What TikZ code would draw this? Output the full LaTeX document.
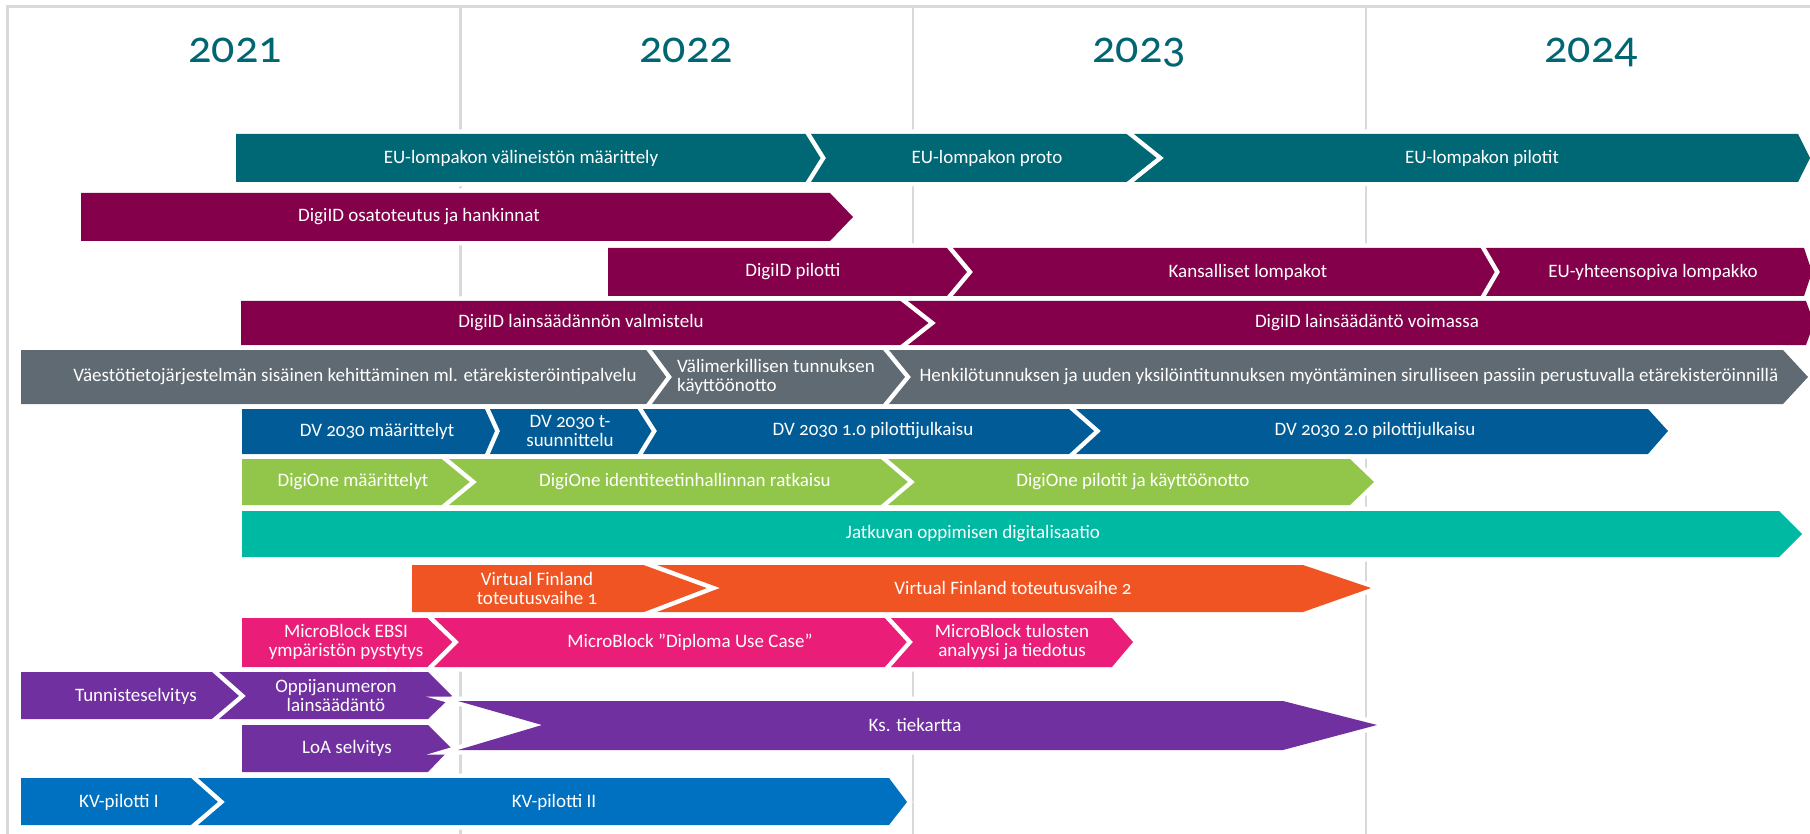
\documentclass[tikz,border=0pt]{standalone}
\usepackage{fontspec}
\setmainfont{Carlito}[Numbers=OldStyle]
\definecolor{gridgray}{RGB}{217,217,217}
\definecolor{yeartxt}{RGB}{0,102,114}
\definecolor{eu}{RGB}{0,103,116}
\definecolor{digiid}{RGB}{133,0,75}
\definecolor{vtj}{RGB}{95,106,114}
\definecolor{dv}{RGB}{0,91,150}
\definecolor{digione}{RGB}{146,198,74}
\definecolor{jatkuva}{RGB}{0,185,163}
\definecolor{vf}{RGB}{240,84,35}
\definecolor{mb}{RGB}{234,30,120}
\definecolor{oph}{RGB}{112,48,160}
\definecolor{kv}{RGB}{0,112,192}

\begin{document}
\begin{tikzpicture}[x=1pt,y=-1pt,
    seg/.style={preaction={draw=white,line width=9pt}},
    lbl/.style={text=white,font=\fontsize{19}{19}\selectfont,align=center,inner sep=0pt},
    yr/.style={text=yeartxt,font=\fontsize{46}{46}\selectfont,anchor=base,inner sep=0pt}]
				\useasboundingbox (0,0) rectangle (1810,834);
				\fill[white] (0,0) rectangle (1810,834);

				% grid
				\draw[gridgray,line width=3pt] (7,834) -- (7,7) -- (1810,7);
				\draw[gridgray,line width=2.5pt] (460.5,7) -- (460.5,834);
				\draw[gridgray,line width=2.5pt] (913,7) -- (913,834);
				\draw[gridgray,line width=2.5pt] (1366,7) -- (1366,834);

				\node[yr] (y21) at (235,63) {2021};
				\node[yr] (y22) at (686,63) {2022};
				\node[yr] (y23) at (1139,63) {2023};
				\node[yr] (y24) at (1591,63) {2024};

				% EU-lompakko
				\fill[eu,seg] (236,134) -- (811,134) -- (826,158) -- (811,182) -- (236,182) -- cycle;
				\fill[eu,seg] (811,134) -- (1134,134) -- (1164,158) -- (1134,182) -- (811,182) -- (826,158) -- cycle;
				\fill[eu,seg] (1134,134) -- (1798,134) -- (1810,158) -- (1798,182) -- (1134,182) -- (1164,158) -- cycle;
				\node[lbl] (eu1) at (521,158) {EU-lompakon välineistön määrittely};
				\node[lbl] (eu2) at (987,158) {EU-lompakon proto};
				\node[lbl] (eu3) at (1482,158) {EU-lompakon pilotit};

				% DigiID
				\fill[digiid,seg] (81,193) -- (830,193) -- (853,217) -- (830,241) -- (81,241) -- cycle;
				\node[lbl] (did1) at (419,217) {DigiID osatoteutus ja hankinnat};

				\fill[digiid,seg] (608,248) -- (953,248) -- (973,272) -- (953,296) -- (608,296) -- cycle;
				\fill[digiid,seg] (953,248) -- (1486,248) -- (1500,272) -- (1486,296) -- (953,296) -- (973,272) -- cycle;
				\fill[digiid,seg] (1486,248) -- (1804,248) -- (1812,272) -- (1804,296) -- (1486,296) -- (1500,272) -- cycle;
				\node[lbl] (did2) at (793,272) {DigiID pilotti};
				\node[lbl] (did3) at (1248,272) {Kansalliset lompakot};
				\node[lbl] (did4) at (1653,272) {EU-yhteensopiva lompakko};

				\fill[digiid,seg] (241,301) -- (908,301) -- (936,323) -- (908,345) -- (241,345) -- cycle;
				\fill[digiid,seg] (908,301) -- (1806,301) -- (1814,323) -- (1806,345) -- (908,345) -- (936,323) -- cycle;
				\node[lbl] (did5) at (581,323) {DigiID lainsäädännön valmistelu};
				\node[lbl] (did6) at (1367,323) {DigiID lainsäädäntö voimassa};

				% VTJ
				\fill[vtj,seg] (21,350) -- (652,350) -- (672,377) -- (652,404) -- (21,404) -- cycle;
				\fill[vtj,seg] (652,350) -- (889,350) -- (911,377) -- (889,404) -- (652,404) -- (672,377) -- cycle;
				\fill[vtj,seg] (889,350) -- (1783,350) -- (1808,377) -- (1783,404) -- (889,404) -- (911,377) -- cycle;
				\node[lbl] (vtj1) at (355,377) {Väestötietojärjestelmän sisäinen kehittäminen ml. etärekisteröintipalvelu};
				\node[lbl,align=left,anchor=west] (vtj2) at (677,377) {Välimerkillisen tunnuksen\\käyttöönotto};
				\node[lbl] (vtj3) at (1349,377) {Henkilötunnuksen ja uuden yksilöintitunnuksen myöntäminen sirulliseen passiin perustuvalla etärekisteröinnillä};

				% DV 2030
				\fill[dv,seg] (242,409) -- (490,409) -- (500,431) -- (490,454) -- (242,454) -- cycle;
				\fill[dv,seg] (490,409) -- (643,409) -- (657,431) -- (643,454) -- (490,454) -- (500,431) -- cycle;
				\fill[dv,seg] (643,409) -- (1076,409) -- (1101,431) -- (1076,454) -- (643,454) -- (657,431) -- cycle;
				\fill[dv,seg] (1076,409) -- (1648,409) -- (1668,431) -- (1648,454) -- (1076,454) -- (1101,431) -- cycle;
				\node[lbl] (dv1) at (377,431) {DV 2030 määrittelyt};
				\node[lbl] (dv2) at (570,431) {DV 2030 t-\\suunnittelu};
				\node[lbl] (dv3) at (873,431) {DV 2030 1.0 pilottijulkaisu};
				\node[lbl] (dv4) at (1375,431) {DV 2030 2.0 pilottijulkaisu};

				% DigiOne
				\fill[digione,seg] (242,459) -- (449,459) -- (477,482) -- (449,505) -- (242,505) -- cycle;
				\fill[digione,seg] (449,459) -- (888,459) -- (915,482) -- (888,505) -- (449,505) -- (477,482) -- cycle;
				\fill[digione,seg] (888,459) -- (1350,459) -- (1374,482) -- (1350,505) -- (888,505) -- (915,482) -- cycle;
				\node[lbl] (do1) at (353,482) {DigiOne määrittelyt};
				\node[lbl] (do2) at (685,482) {DigiOne identiteetinhallinnan ratkaisu};
				\node[lbl] (do3) at (1133,482) {DigiOne pilotit ja käyttöönotto};

				% Jatkuva oppiminen
				\fill[jatkuva,seg] (242,511) -- (1779,511) -- (1802,534) -- (1779,557) -- (242,557) -- cycle;
				\node[lbl] (jo) at (973,534) {Jatkuvan oppimisen digitalisaatio};

				% Virtual Finland
				\fill[vf,seg] (412,565) -- (657,565) -- (720,588) -- (657,612) -- (412,612) -- cycle;
				\fill[vf,seg] (657,565) -- (1303,565) -- (1371,588) -- (1303,612) -- (657,612) -- (720,588) -- cycle;
				\node[lbl] (vf1) at (537,588) {Virtual Finland\\toteutusvaihe 1};
				\node[lbl] (vf2) at (1013,588) {Virtual Finland toteutusvaihe 2};

				% MicroBlock
				\fill[mb,seg] (242,618) -- (434,618) -- (459,642) -- (434,667) -- (242,667) -- cycle;
				\fill[mb,seg] (434,618) -- (891,618) -- (913,642) -- (891,667) -- (434,667) -- (459,642) -- cycle;
				\fill[mb,seg] (891,618) -- (1112,618) -- (1133,642) -- (1112,667) -- (891,667) -- (913,642) -- cycle;
				\node[lbl] (mb1) at (346,642) {MicroBlock EBSI\\ympäristön pystytys};
				\node[lbl] (mb2) at (690,642) {MicroBlock "Diploma Use Case”};
				\node[lbl] (mb3) at (1012,642) {MicroBlock tulosten\\analyysi ja tiedotus};

				% Oppijanumero
				\fill[oph,seg] (21,672) -- (219,672) -- (246,696) -- (219,719) -- (21,719) -- cycle;
				\fill[oph,seg] (219,672) -- (428,672) -- (452,696) -- (428,719) -- (219,719) -- (246,696) -- cycle;
				\fill[oph,seg] (242,725) -- (428,725) -- (451,748) -- (428,772) -- (242,772) -- cycle;
				\fill[oph,seg] (458,701) -- (1283,701) -- (1377,725) -- (1283,750) -- (458,750) -- (542,725) -- cycle;
				\node[lbl] (on1) at (136,696) {Tunnisteselvitys};
				\node[lbl] (on2) at (336,696) {Oppijanumeron\\lainsäädäntö};
				\node[lbl] (on3) at (347,748) {LoA selvitys};
				\node[lbl] (on4) at (915,725) {Ks. tiekartta};

				% KV-pilotit
				\fill[kv,seg] (21,778) -- (198,778) -- (225,802) -- (198,825) -- (21,825) -- cycle;
				\fill[kv,seg] (198,778) -- (889,778) -- (907,802) -- (889,825) -- (198,825) -- (225,802) -- cycle;
				\node[lbl] (kv1) at (119,802) {KV-pilotti I};
				\node[lbl] (kv2) at (554,802) {KV-pilotti II};
\end{tikzpicture}
\end{document}
